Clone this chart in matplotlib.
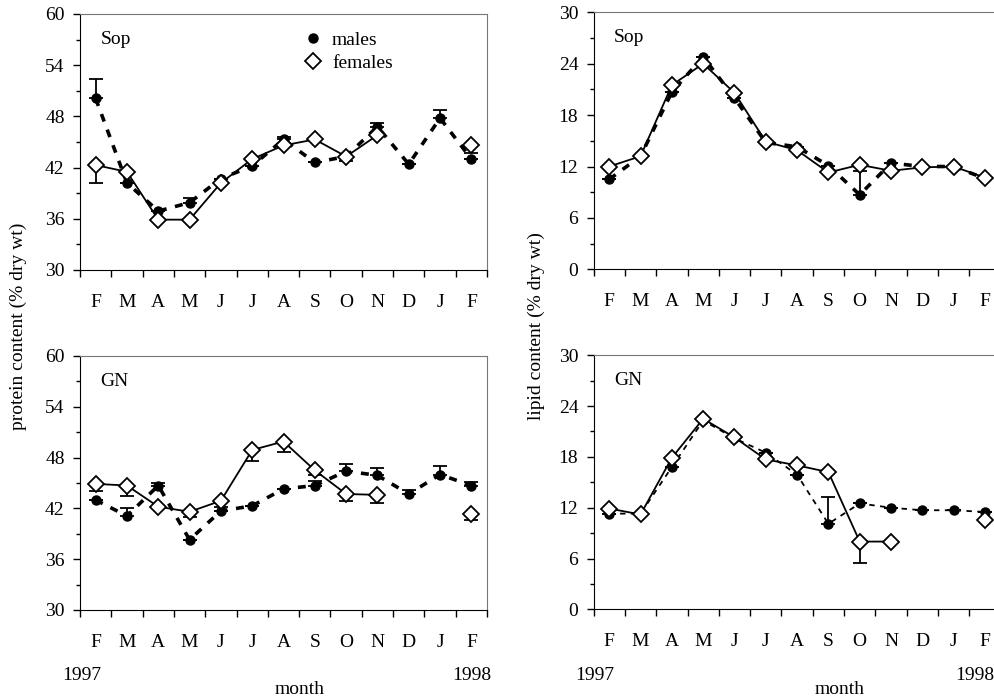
import numpy as np
import matplotlib.pyplot as plt
from matplotlib.lines import Line2D

plt.rcParams['font.family'] = ['Liberation Serif', 'DejaVu Serif']
plt.rcParams['font.size'] = 14

months = ['F', 'M', 'A', 'M', 'J', 'J', 'A', 'S', 'O', 'N', 'D', 'J', 'F']
nan = np.nan

# protein, Sop
prot_sop_m = [50.1, 40.2, 36.9, 37.9, 40.7, 42.2, 45.3, 42.6, 43.3, 46.8, 42.4, 47.8, 43.0]
prot_sop_m_err = [2.3, 0, 0, 0.5, 0, 0, 0.3, 0, 0, 0.4, 0, 0.9, 0]
prot_sop_f = [42.3, 41.5, 35.9, 35.9, 40.2, 43.0, 44.6, 45.3, 43.3, 45.8, nan, nan, 44.7]
prot_sop_f_err = [-2.1, 0, 0, 0, 0, 0, 0, 0, -0.5, 0, 0, 0, -1.0]

# lipid, Sop
lip_sop_m = [10.5, 13.2, 20.7, 24.8, 20.0, 14.8, 14.3, 12.1, 8.7, 12.4, 12.0, 12.0, 10.6]
lip_sop_m_err = [0, 0, 0, 0, 0, 0, 0, 0, 2.8, 0, 0, 0, 0]
lip_sop_f = [12.0, 13.2, 21.5, 24.0, 20.6, 14.9, 13.9, 11.3, 12.2, 11.5, 11.9, 12.0, 10.7]
lip_sop_f_err = [0] * 13

# protein, GN
prot_gn_m = [43.0, 41.1, 44.7, 38.3, 41.7, 42.3, 44.3, 44.7, 46.4, 45.9, 43.7, 46.0, 44.7]
prot_gn_m_err = [0, 0.9, 0.3, 0, 0, 0, 0, 0.5, 0.8, 0.9, 0.5, 1.0, 0.4]
prot_gn_f = [44.9, 44.7, 42.2, 41.6, 42.9, 48.9, 49.9, 46.5, 43.7, 43.6, nan, nan, 41.3]
prot_gn_f_err = [-0.9, -1.2, 0, -0.6, -0.7, -1.3, -1.2, -0.6, -0.8, -1.0, 0, 0, -0.7]

# lipid, GN
lip_gn_m = [11.3, 11.3, 16.8, 22.3, 20.2, 18.5, 15.9, 10.1, 12.5, 12.0, 11.7, 11.7, 11.5]
lip_gn_m_err = [0, 0, 0, 0, 0, 0, 0, 3.2, 0, 0, 0, 0, 0]
lip_gn_f = [11.9, 11.2, 17.9, 22.5, 20.3, 17.7, 17.0, 16.2, 8.0, 8.0, nan, nan, 10.6]
lip_gn_f_err = [0, 0, 0, 0, 0, 0, 0, 0, -2.5, 0, 0, 0, 0]


def split_err(e):
    e = np.array(e, dtype=float)
    return [np.where(e < 0, -e, 0), np.where(e > 0, e, 0)]


def panel(ax, label, ym, ym_err, yf, yf_err, ylim, male_style):
    x = np.arange(len(months))
    ax.errorbar(x, ym, yerr=split_err(ym_err), color='black', ecolor='black',
                elinewidth=1.3, capsize=5, capthick=1.3, zorder=2, **male_style)
    ax.errorbar(x, yf, yerr=split_err(yf_err), color='black', ecolor='black',
                elinewidth=1.3, capsize=5, capthick=1.3, lw=1.3, marker='D',
                ms=8.5, mfc='white', mec='black', mew=1.3, zorder=3)
    ax.set_xlim(-0.5, len(months) - 0.5)
    ax.set_ylim(*ylim)
    ax.set_yticks(np.arange(ylim[0], ylim[1] + 1, 6))
    ax.set_yticks(np.arange(ylim[0], ylim[1] + 1, 3), minor=True)
    ax.set_xticks(np.arange(-0.5, len(months), 1))
    ax.set_xticklabels([])
    ax.set_xticks(x, minor=True)
    ax.set_xticklabels(months, minor=True)
    ax.tick_params(axis='x', which='major', direction='out', length=5, width=1)
    ax.tick_params(axis='x', which='minor', length=0, pad=17)
    ax.tick_params(axis='y', which='major', direction='out', length=5, width=1, pad=6)
    ax.tick_params(axis='y', which='minor', direction='out', length=3, width=1)
    for s in ['top', 'right']:
        ax.spines[s].set_color('#777777')
        ax.spines[s].set_linewidth(0.8)
    ax.text(0.05, 0.9, label, transform=ax.transAxes, fontsize=14, va='center')


fig = plt.figure(figsize=(9.94, 7.0), dpi=100)
ax1 = fig.add_axes([80 / 994, 1 - 270 / 700, 407 / 994, 256 / 700])
ax2 = fig.add_axes([593.6 / 994, 1 - 269.3 / 700, 407 / 994, 257 / 700])
ax3 = fig.add_axes([80 / 994, 1 - 610 / 700, 407 / 994, 254 / 700])
ax4 = fig.add_axes([593.6 / 994, 1 - 609.3 / 700, 407 / 994, 254 / 700])

thick_dash = dict(ls=(0, (2.2, 2.4)), lw=2.6, marker='o', ms=6.5, mfc='black', mec='black')
thin_dash = dict(ls=(0, (3, 3)), lw=1.3, marker='o', ms=6.5, mfc='black', mec='black')

panel(ax1, 'Sop', prot_sop_m, prot_sop_m_err, prot_sop_f, prot_sop_f_err, (30, 60), thick_dash)
panel(ax2, 'Sop', lip_sop_m, lip_sop_m_err, lip_sop_f, lip_sop_f_err, (0, 30), thick_dash)
panel(ax3, 'GN', prot_gn_m, prot_gn_m_err, prot_gn_f, prot_gn_f_err, (30, 60), thick_dash)
panel(ax4, 'GN', lip_gn_m, lip_gn_m_err, lip_gn_f, lip_gn_f_err, (0, 30), thin_dash)

handles = [Line2D([], [], ls='none', marker='o', ms=6.5, color='black'),
           Line2D([], [], ls='none', marker='D', ms=8.5, mfc='white', mec='black', mew=1.3)]
ax1.legend(handles, ['males', 'females'], loc='upper left', bbox_to_anchor=(0.50, 1.0),
           frameon=False, handletextpad=0.4, labelspacing=0.25, handlelength=1.2, fontsize=14)

fig.text(18 / 994, 1 - 326 / 700, 'protein content (% dry wt)', rotation=90,
         ha='center', va='center', fontsize=14)
fig.text(536 / 994, 1 - 326 / 700, 'lipid content (% dry wt)', rotation=90,
         ha='center', va='center', fontsize=14)

for xl, xr, xm in [(82, 472, 300), (595, 975, 840)]:
    fig.text(xl / 994, 1 - 675 / 700, '1997', ha='center', va='center', fontsize=14)
    fig.text(xr / 994, 1 - 675 / 700, '1998', ha='center', va='center', fontsize=14)
    fig.text(xm / 994, 1 - 690 / 700, 'month', ha='center', va='center', fontsize=14)

fig.savefig('out.png', dpi=100)
